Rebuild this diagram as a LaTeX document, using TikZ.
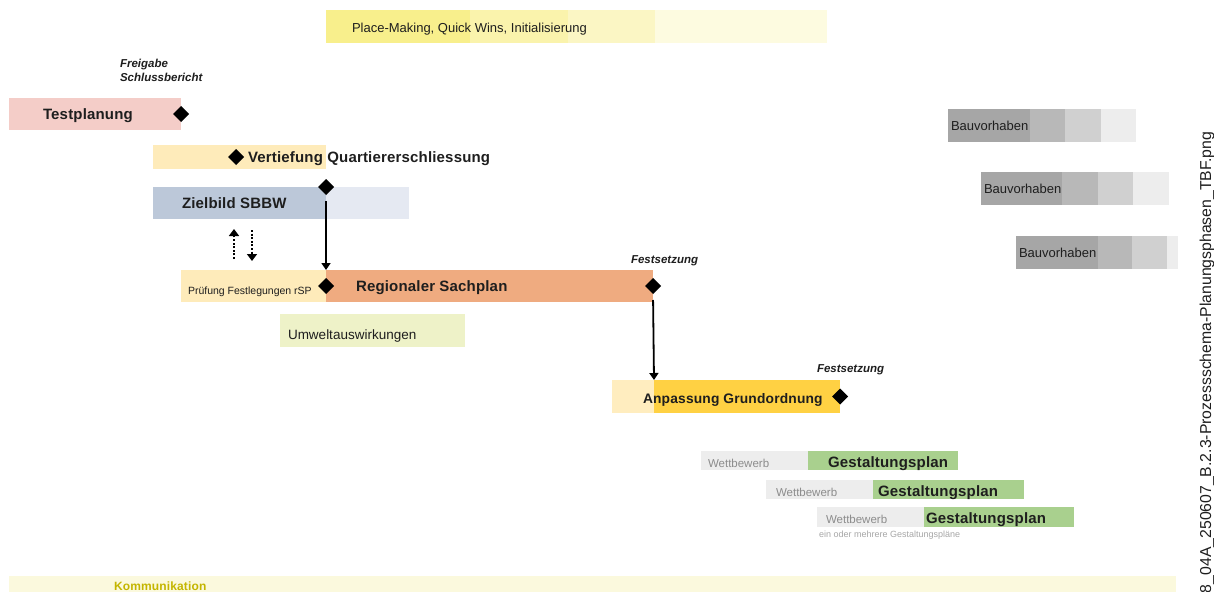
\documentclass[tikz,border=0pt]{standalone}
\usepackage{fontspec}
\setmainfont{Liberation Sans}[BoldFeatures={LetterSpace=1.2}]
\usepackage{xcolor}
\usepackage{tikz}
\usetikzlibrary{arrows.meta, positioning, shapes.geometric}

\definecolor{pmA}{HTML}{F8EF8C}
\definecolor{pmB}{HTML}{FAF3AC}
\definecolor{pmC}{HTML}{FBF6C4}
\definecolor{pmD}{HTML}{FDFBE0}
\definecolor{testrosa}{HTML}{F4CDC8}
\definecolor{hellorange}{HTML}{FEEBBA}
\definecolor{zielblau}{HTML}{BCC8D9}
\definecolor{zielhell}{HTML}{E5E9F2}
\definecolor{sachplan}{HTML}{EFAB80}
\definecolor{umwelt}{HTML}{EEF2C8}
\definecolor{grundhell}{HTML}{FFEDBF}
\definecolor{grundgelb}{HTML}{FFD143}
\definecolor{wettgrau}{HTML}{EDEDED}
\definecolor{gestgruen}{HTML}{A9D08E}
\definecolor{bauA}{HTML}{A6A6A6}
\definecolor{bauB}{HTML}{B8B8B8}
\definecolor{bauC}{HTML}{D0D0D0}
\definecolor{bauD}{HTML}{EDEDED}
\definecolor{kommbg}{HTML}{FBF9DD}
\definecolor{kommtext}{HTML}{C4B500}
\definecolor{schrift}{HTML}{1E1E1E}

\begin{document}
\begin{tikzpicture}[
x=1pt, y=-1pt,
every node/.style={inner sep=0pt, outer sep=0pt, text=schrift},
bar/.style={rectangle, anchor=north west, minimum height=32pt},
seg/.style={rectangle, minimum height=32pt, right=0pt of #1},
lbl/.style={anchor=base west, yshift=-5pt, font=\fontsize{13}{15}\selectfont},
boldlbl/.style={anchor=base west, yshift=-5.8pt, font=\fontsize{15}{18}\selectfont\bfseries},
smalllbl/.style={anchor=base west, yshift=-6.5pt, font=\fontsize{11.5}{13}\selectfont, text=gray!90},
note/.style={anchor=base west, align=left, font=\fontsize{11.5}{14}\selectfont\bfseries\itshape},
milestone/.style={diamond, fill=black, minimum width=16pt, minimum height=16pt},
flow/.style={-{Triangle[width=9pt, length=7pt]}, line width=1.8pt},
dotflow/.style={-{Triangle[width=10pt, length=7pt]}, line width=2.4pt, dash pattern=on 2pt off 1.6pt}
]

\useasboundingbox (0,0) rectangle (1214,591);

% Place-Making
\node[bar, fill=pmA, minimum width=144pt, minimum height=33pt] (pm1) at (326,10) {};
\node[seg=pm1, fill=pmB, minimum width=98pt, minimum height=33pt] (pm2) {};
\node[seg=pm2, fill=pmC, minimum width=87pt, minimum height=33pt] (pm3) {};
\node[seg=pm3, fill=pmD, minimum width=172pt, minimum height=33pt] (pm4) {};
\node[lbl, xshift=26pt, yshift=-0.8pt] (pmtxt) at (pm1.west) {Place-Making, Quick Wins, Initialisierung};

% Testplanung
\node[note] (freigabe) at (120,82) {Freigabe\\Schlussbericht};
\node[bar, fill=testrosa, minimum width=172pt] (testplanung) at (9,98) {};
\node[boldlbl, xshift=34pt] (testplanungtxt) at (testplanung.west) {Testplanung};
\node[milestone] (freigabems) at (testplanung.east) {};

% Vertiefung Quartiererschliessung
\node[bar, fill=hellorange, minimum width=83pt, minimum height=24pt] (vertiefung1) at (153,145) {};
\node[seg=vertiefung1, fill=hellorange, minimum width=90pt, minimum height=24pt] (vertiefung2) {};
\node[milestone] (vertiefungms) at (vertiefung1.east) {};
\node[boldlbl, xshift=12pt] (vertiefungtxt) at (vertiefung1.east) {Vertiefung Quartiererschliessung};

% Zielbild
\node[bar, fill=zielblau, minimum width=173pt] (zielbild) at (153,187) {};
\node[seg=zielbild, fill=zielhell, minimum width=83pt] (zielbildhell) {};
\node[boldlbl, xshift=29pt] (zielbildtxt) at (zielbild.west) {Zielbild SBBW};
\node[milestone] (zielbildms) at (zielbild.north east) {};

% Regionaler Sachplan
\node[bar, fill=hellorange, minimum width=145pt] (pruefung) at (181,270) {};
\node[seg=pruefung, fill=sachplan, minimum width=327pt] (sachplan) {};
\node[lbl, font=\fontsize{10.5}{12}\selectfont, xshift=7pt, yshift=-3.5pt] (pruefungtxt) at (pruefung.west) {Prüfung Festlegungen rSP};
\node[boldlbl, xshift=30pt] (sachplantxt) at (sachplan.west) {Regionaler Sachplan};
\node[milestone] (pruefungms) at (pruefung.east) {};
\node[milestone] (sachplanms) at (sachplan.east) {};
\node[note] (festsetzung1) at (631,263) {Festsetzung};

\node[bar, fill=umwelt, minimum width=185pt, minimum height=33pt] (umwelt) at (280,314) {};
\node[lbl, font=\fontsize{13.5}{15}\selectfont, xshift=8pt, yshift=-4pt] (umwelttxt) at (umwelt.west) {Umweltauswirkungen};

% Anpassung Grundordnung
\node[bar, fill=grundhell, minimum width=42pt, minimum height=33pt] (grundordnung1) at (612,380) {};
\node[seg=grundordnung1, fill=grundgelb, minimum width=186pt, minimum height=33pt] (grundordnung2) {};
\node[boldlbl, font=\fontsize{13.8}{16}\selectfont\bfseries, xshift=31pt, yshift=-1pt] (grundordnungtxt) at (grundordnung1.west) {Anpassung Grundordnung};
\node[milestone] (grundordnungms) at (grundordnung2.east) {};
\node[note] (festsetzung2) at (817,372) {Festsetzung};

% Pfeile
\coordinate (hochA) at (234,259);
\coordinate (hochB) at (234,229);
\coordinate (runterA) at (252,230);
\coordinate (runterB) at (252,261);
\draw[dotflow] (hochA) -- (hochB);
\draw[dotflow] (runterA) -- (runterB);
\draw[flow, shorten <=6pt] (zielbildms.south) -- (sachplan.north west);
\draw[flow, shorten <=6pt] (sachplanms.south) -- (grundordnung2.north west);

% Gestaltungsplaene
\node[bar, fill=wettgrau, minimum width=107pt, minimum height=19pt] (wettbewerb1) at (701,451) {};
\node[seg=wettbewerb1, fill=gestgruen, minimum width=150pt, minimum height=19pt] (gestaltung1) {};
\node[smalllbl, xshift=7pt] (wettbewerb1txt) at (wettbewerb1.west) {Wettbewerb};
\node[boldlbl, xshift=20pt, yshift=-0.8pt] (gestaltung1txt) at (gestaltung1.west) {Gestaltungsplan};

\node[bar, fill=wettgrau, minimum width=107pt, minimum height=19pt] (wettbewerb2) at (766,480) {};
\node[seg=wettbewerb2, fill=gestgruen, minimum width=151pt, minimum height=19pt] (gestaltung2) {};
\node[smalllbl, xshift=10pt] (wettbewerb2txt) at (wettbewerb2.west) {Wettbewerb};
\node[boldlbl, xshift=5pt, yshift=-0.8pt] (gestaltung2txt) at (gestaltung2.west) {Gestaltungsplan};

\node[bar, fill=wettgrau, minimum width=107pt, minimum height=20pt] (wettbewerb3) at (817,507) {};
\node[seg=wettbewerb3, fill=gestgruen, minimum width=150pt, minimum height=20pt] (gestaltung3) {};
\node[smalllbl, xshift=9pt] (wettbewerb3txt) at (wettbewerb3.west) {Wettbewerb};
\node[boldlbl, xshift=2pt, yshift=-0.8pt] (gestaltung3txt) at (gestaltung3.west) {Gestaltungsplan};
\node[anchor=base west, font=\fontsize{9}{10}\selectfont, text=gray!70] (mehrere) at (819,537) {ein oder mehrere Gestaltungspläne};

% Bauvorhaben
\node[bar, fill=bauA, minimum width=82pt, minimum height=33pt] (bau1a) at (948,109) {};
\node[seg=bau1a, fill=bauB, minimum width=35pt, minimum height=33pt] (bau1b) {};
\node[seg=bau1b, fill=bauC, minimum width=36pt, minimum height=33pt] (bau1c) {};
\node[seg=bau1c, fill=bauD, minimum width=35pt, minimum height=33pt] (bau1d) {};
\node[lbl, xshift=3pt] (bau1txt) at (bau1a.west) {Bauvorhaben};

\node[bar, fill=bauA, minimum width=81pt, minimum height=33pt] (bau2a) at (981,172) {};
\node[seg=bau2a, fill=bauB, minimum width=36pt, minimum height=33pt] (bau2b) {};
\node[seg=bau2b, fill=bauC, minimum width=35pt, minimum height=33pt] (bau2c) {};
\node[seg=bau2c, fill=bauD, minimum width=36pt, minimum height=33pt] (bau2d) {};
\node[lbl, xshift=3pt] (bau2txt) at (bau2a.west) {Bauvorhaben};

\node[bar, fill=bauA, minimum width=82pt, minimum height=33pt] (bau3a) at (1016,236) {};
\node[seg=bau3a, fill=bauB, minimum width=34pt, minimum height=33pt] (bau3b) {};
\node[seg=bau3b, fill=bauC, minimum width=35pt, minimum height=33pt] (bau3c) {};
\node[seg=bau3c, fill=bauD, minimum width=11pt, minimum height=33pt] (bau3d) {};
\node[lbl, xshift=3pt] (bau3txt) at (bau3a.west) {Bauvorhaben};

% Kommunikation
\node[bar, fill=kommbg, minimum width=1167pt, minimum height=20pt] (kommunikation) at (9,576) {};
\node[anchor=base west, font=\fontsize{12}{14}\selectfont\bfseries, text=kommtext] (kommtxt) at (114,590) {Kommunikation};

% Dateiname
\node[rotate=90, anchor=base west, font=\fontsize{15.8}{18}\selectfont] (dateiname) at (1211,593) {8\_04A\_250607\_B.2.3-Prozessschema-Planungsphasen\_TBF.png};

\end{tikzpicture}
\end{document}
